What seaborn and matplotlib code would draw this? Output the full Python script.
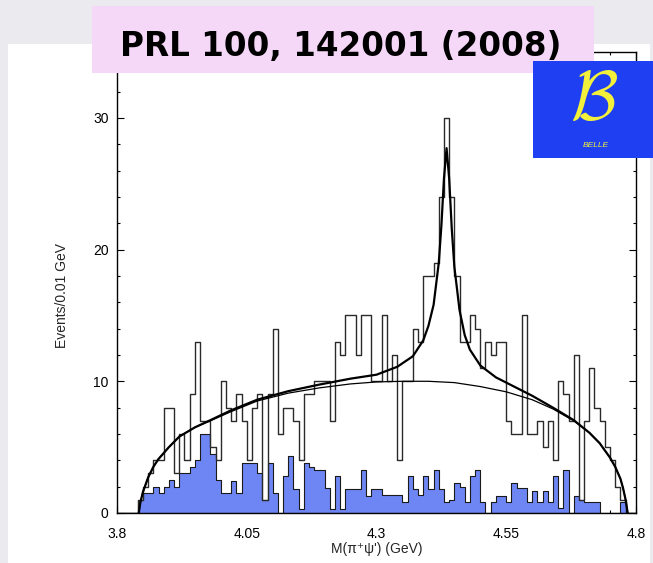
import numpy as np
import pandas as pd
import matplotlib
matplotlib.use("Agg")
import matplotlib.pyplot as plt
from matplotlib.patches import Rectangle
from matplotlib.ticker import MultipleLocator
import seaborn as sns

# ---------------------------------------------------------------------------
# M(pi+ psi') spectrum, 0.01 GeV bins from 3.80 to 4.80 GeV
# ---------------------------------------------------------------------------
mass_lo = 3.80
mass_hi = 4.80
bin_width = 0.01

events = [
    0, 0, 0, 0, 1, 2, 3, 4, 4, 8,
    8, 3, 6, 4, 9, 13, 7, 7, 5, 4,
    10, 8, 7, 9, 7, 4, 8, 9, 1, 9,
    14, 6, 8, 8, 7, 4, 9, 9, 10, 10,
    10, 7, 13, 12, 15, 15, 12, 15, 15, 10,
    10, 15, 10, 12, 4, 10, 10, 14, 13, 18,
    18, 19, 24, 30, 24, 18, 13, 13, 15, 14,
    11, 13, 12, 13, 13, 7, 6, 6, 15, 6,
    6, 7, 5, 7, 4, 10, 9, 7, 12, 1,
    7, 11, 8, 7, 5, 4, 2, 1, 0, 0,
]

# scaled sideband background (shaded)
sideband = [
    0, 0, 0, 0, 1.0, 1.5, 1.5, 2.0, 1.5, 2.0,
    2.5, 2.0, 3.0, 3.0, 3.5, 4.0, 6.0, 6.0, 4.5, 2.5,
    1.5, 1.5, 2.4, 1.5, 3.8, 3.8, 3.8, 3.0, 1.0, 3.8,
    1.5, 0, 2.8, 4.3, 1.8, 0.3, 3.8, 3.5, 3.3, 3.3,
    1.9, 0.3, 2.8, 0.3, 1.8, 1.8, 1.8, 3.3, 1.3, 1.8,
    1.8, 1.4, 1.4, 1.4, 1.4, 0.8, 2.8, 1.8, 1.4, 2.8,
    1.8, 3.3, 1.8, 0.8, 1.0, 2.3, 2.0, 0.8, 2.8, 3.3,
    0.8, 0, 0.8, 1.3, 1.3, 0.8, 2.3, 1.9, 1.9, 0.8,
    1.7, 0.8, 1.7, 0.8, 2.8, 0.4, 3.3, 0, 1.3, 1.0,
    0.8, 0.8, 0.8, 0, 0, 0, 0, 0.8, 0, 0,
]

# fit curves: phase-space background and background + Breit-Wigner
bkg_x = [3.842, 3.845, 3.85, 3.86, 3.87, 3.88, 3.90, 3.92, 3.95,
         3.98, 4.02, 4.07, 4.13, 4.19, 4.25, 4.30, 4.35, 4.40, 4.45,
         4.50, 4.55, 4.60, 4.64, 4.68, 4.71, 4.73, 4.75, 4.76, 4.77,
         4.775, 4.78, 4.784]
bkg_y = [0.0, 0.8, 1.6, 2.7, 3.5, 4.1, 5.0, 5.8, 6.5,
         7.0, 7.7, 8.5, 9.1, 9.5, 9.8, 9.95, 10.0, 10.0, 9.9,
         9.6, 9.2, 8.6, 7.9, 7.0, 6.1, 5.3, 4.2, 3.5, 2.6,
         1.9, 1.0, 0.0]

fit_x = [3.842, 3.845, 3.85, 3.86, 3.87, 3.88, 3.90, 3.92, 3.95,
         3.98, 4.02, 4.07, 4.13, 4.19, 4.25, 4.30, 4.34, 4.37, 4.39,
         4.40, 4.41, 4.42, 4.425, 4.43, 4.435, 4.44, 4.445, 4.45, 4.46,
         4.47, 4.48, 4.50, 4.53, 4.56, 4.60, 4.64, 4.68, 4.71, 4.73,
         4.75, 4.76, 4.77, 4.775, 4.78, 4.784]
fit_y = [0.0, 0.8, 1.6, 2.7, 3.5, 4.1, 5.0, 5.8, 6.5,
         7.05, 7.8, 8.6, 9.25, 9.75, 10.2, 10.5, 11.1, 11.9, 13.1,
         14.2, 15.8, 19.0, 21.8, 25.4, 27.7, 25.4, 21.6, 18.7, 15.4,
         13.5, 12.4, 11.2, 10.3, 9.7, 8.9, 8.0, 7.05, 6.1, 5.3,
         4.2, 3.5, 2.6, 1.9, 1.0, 0.0]

x_ticks = [3.8, 4.05, 4.3, 4.55, 4.8]
x_tick_labels = ["3.8", "4.05", "4.3", "4.55", "4.8"]
y_ticks = [0, 10, 20, 30]

n_bins = len(events)
centers = mass_lo + bin_width * (np.arange(n_bins) + 0.5)
df = pd.DataFrame({"mass": centers, "events": events, "sideband": sideband})

# ---------------------------------------------------------------------------
sns.set_style("ticks")
plt.rcParams["font.family"] = ["Liberation Sans", "DejaVu Sans"]

W, H = 653, 563
fig = plt.figure(figsize=(W / 100, H / 100), dpi=100, facecolor="#ebebef")


def fx(px):
    return px / W


def fy(py):
    return 1 - py / H


# white sheet behind the plot
fig.add_artist(Rectangle((fx(8), 0), fx(650) - fx(8), fy(44),
                         transform=fig.transFigure, facecolor="white",
                         edgecolor="none", zorder=-5))

ax_l, ax_r, ax_t, ax_b = 117, 636, 52, 513
ax = fig.add_axes([fx(ax_l), fy(ax_b), fx(ax_r) - fx(ax_l), fy(ax_t) - fy(ax_b)])
ax.set_facecolor("white")

hist_kw = dict(binwidth=bin_width, binrange=(mass_lo, mass_hi), element="step")
sns.histplot(data=df, x="mass", weights="sideband", fill=True,
             color="#6e86f4", alpha=1.0, edgecolor="#1a1a1a", linewidth=0.8,
             ax=ax, **hist_kw)
sns.histplot(data=df, x="mass", weights="events", fill=False,
             color="#2a2a2a", linewidth=1.0, ax=ax, **hist_kw)
sns.lineplot(x=bkg_x, y=bkg_y, color="black", linewidth=0.9, ax=ax)
sns.lineplot(x=fit_x, y=fit_y, color="black", linewidth=1.6, ax=ax)

ax.set_xlim(mass_lo, mass_hi)
ax.set_ylim(0, 35)
ax.set_xticks(x_ticks)
ax.set_xticklabels(x_tick_labels)
ax.set_yticks(y_ticks)
ax.xaxis.set_minor_locator(MultipleLocator(0.05))
ax.yaxis.set_minor_locator(MultipleLocator(2))
ax.tick_params(which="both", direction="in", top=True, right=True,
               colors="black", labelsize=10, width=0.8)
ax.tick_params(which="major", length=5)
ax.tick_params(which="minor", length=2.5)
ax.tick_params(axis="x", which="major", pad=10)
ax.tick_params(axis="y", which="major", pad=6)
for s in ax.spines.values():
    s.set_color("black")
    s.set_linewidth(1.0)

ax.set_xlabel("M(π⁺ψ') (GeV)", fontsize=10, labelpad=1)
ax.set_ylabel("")
fig.text(fx(62), fy(295), "Events/0.01 GeV", rotation=90, ha="center",
         va="center", fontsize=10)

# reference box
fig.add_artist(Rectangle((fx(92), fy(73)), fx(594) - fx(92), fy(6) - fy(73),
                         transform=fig.transFigure, facecolor="#f5d7f7",
                         edgecolor="none", zorder=5))
fig.text(fx(341), fy(56), "PRL 100, 142001 (2008)", ha="center",
         va="baseline", fontsize=23.5, fontweight="bold", color="black",
         family="DejaVu Sans", zorder=6)

# Belle badge
fig.add_artist(Rectangle((fx(533), fy(158)), fx(653) - fx(533), fy(61) - fy(158),
                         transform=fig.transFigure, facecolor="#1f3ff2",
                         edgecolor="none", zorder=7))
fig.text(fx(594), fy(101), r"$\mathcal{B}$", ha="center", va="center",
         fontsize=50, color="#f2f03a", math_fontfamily="cm", zorder=8)
fig.text(fx(596), fy(146), "BELLE", ha="center", va="center",
         fontsize=6, style="italic", color="#f2f03a", zorder=8)

fig.savefig("out.png", dpi=100, facecolor=fig.get_facecolor())
